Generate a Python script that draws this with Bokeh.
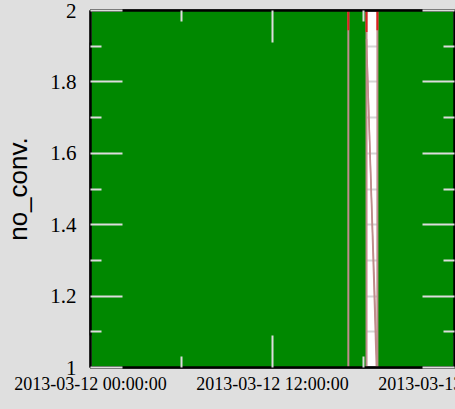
import pandas as pd
from bokeh.plotting import figure
from bokeh.models import (FixedTicker, DatetimeTickFormatter, LinearAxis, DatetimeAxis,
                          Range1d, GlobalInlineStyleSheet, CustomLabelingPolicy)
from bokeh.embed import file_html
from bokeh.resources import INLINE

# ---- data ----
x_start = "2013-03-12 00:00:00"
x_end = "2013-03-13 00:00:00"
x_ticks = ["2013-03-12 00:00:00", "2013-03-12 12:00:00", "2013-03-13 00:00:00"]
x_minor = ["2013-03-12 06:00:00", "2013-03-12 18:00:00"]
y_ticks = [1.0, 1.2, 1.4, 1.6, 1.8, 2.0]
y_minor = [1.1, 1.3, 1.5, 1.7, 1.9]
y_label = "no_conv."

fill_start = ["2013-03-12 00:00:00", "2013-03-12 18:55:00"]
fill_end = ["2013-03-12 18:12:00", "2013-03-13 00:00:00"]
fill_low = [1.0, 1.0]
fill_high = [2.0, 2.0]

jump_times = ["2013-03-12 17:00:00", "2013-03-12 18:12:00", "2013-03-12 18:55:00"]
jump_high = [2.0, 2.0, 2.0]
jump_low = [1.0, 1.0, 1.0]
jump_red_low = [1.945, 1.94, 1.945]

slope_t0 = ["2013-03-12 18:12:00", "2013-03-12 18:14:00"]
slope_y0 = [1.92, 1.86]
slope_t1 = ["2013-03-12 18:51:00", "2013-03-12 18:54:00"]
slope_y1 = [1.0, 1.0]


def ms(lst):
    return [float(v) for v in (pd.to_datetime(lst).asi8 // 10**6)]


BG = "#dfdfdf"
TICK = "#dcdcdc"

# the original image is cut at its right edge through the last date label;
# the figure runs past the window edge, which hides the rest.
p = figure(width=535, height=409, output_backend="svg", toolbar_location=None,
           x_axis_type="datetime",
           x_range=Range1d(ms([x_start])[0], ms([x_end])[0]),
           y_range=Range1d(1.0, 2.0),
           min_border_left=90, min_border_right=81, min_border_top=10, min_border_bottom=42)
p.background_fill_color = "white"
p.border_fill_color = BG
p.outline_line_color = "black"
p.outline_line_width = 2

# grids (visible only where no fill)
p.xgrid.grid_line_color = None
p.ygrid.ticker = FixedTicker(ticks=y_ticks, minor_ticks=y_minor)
p.ygrid.grid_line_color = "#d6d6d6"
p.ygrid.grid_line_width = 2
p.ygrid.minor_grid_line_color = "#d6d6d6"
p.ygrid.minor_grid_line_width = 2

# fill
p.quad(left=ms(fill_start), right=ms(fill_end), bottom=fill_low, top=fill_high,
       fill_color="#008800", line_color=None)

# lines
jt = ms(jump_times)
p.segment(x0=jt, y0=jump_high, x1=jt, y1=jump_low, line_color="#c08c8c", line_width=2)
p.segment(x0=jt, y0=jump_high, x1=jt, y1=jump_red_low, line_color="#e02020", line_width=2)
p.segment(x0=ms(slope_t0), y0=slope_y0, x1=ms(slope_t1), y1=slope_y1,
          line_color="#c08c8c", line_width=1.5)

xticker = FixedTicker(ticks=ms(x_ticks), minor_ticks=ms(x_minor))
yticker = FixedTicker(ticks=y_ticks, minor_ticks=y_minor)
fmt = "%Y-%m-%d %H:%M:%S"
xfmt = DatetimeTickFormatter(microseconds=fmt, milliseconds=fmt, seconds=fmt, minsec=fmt,
                             minutes=fmt, hourmin=fmt, hours=fmt, days=fmt, months=fmt, years=fmt)


def no_labels():
    return CustomLabelingPolicy(code="""
        const all = [];
        for (const i of indices) all.push(i);
        for (const i of all) indices.unset(i);
        return indices;
    """)


def style(ax):
    ax.axis_line_color = "black"
    ax.axis_line_width = 2.5
    ax.major_tick_in = 32
    ax.major_tick_out = 0
    ax.minor_tick_in = 11
    ax.minor_tick_out = 0
    ax.major_tick_line_color = TICK
    ax.minor_tick_line_color = TICK
    ax.major_tick_line_width = 2
    ax.minor_tick_line_width = 2


xa = p.xaxis[0]
xa.ticker = xticker
xa.formatter = xfmt
style(xa)
xa.major_label_text_font = "Liberation Serif"
xa.major_label_text_font_size = "18px"
xa.major_label_text_color = "black"
xa.major_label_standoff = 6

ya = p.yaxis[0]
ya.ticker = yticker
style(ya)
ya.major_label_text_font = "Liberation Serif"
ya.major_label_text_font_size = "21px"
ya.major_label_text_color = "black"
ya.major_label_standoff = 14
ya.axis_label = y_label
ya.axis_label_text_font = "Liberation Sans"
ya.axis_label_text_font_style = "normal"
ya.axis_label_text_font_size = "26px"
ya.axis_label_text_color = "black"
ya.axis_label_standoff = 14

top = DatetimeAxis(ticker=xticker, formatter=xfmt, major_label_policy=no_labels())
style(top)
top.major_label_text_font_size = "0px"
top.major_label_standoff = 0
p.add_layout(top, "above")

right = LinearAxis(ticker=yticker, major_label_policy=no_labels())
style(right)
right.major_label_text_font_size = "0px"
right.major_label_standoff = 0
p.add_layout(right, "right")

p.stylesheets = [GlobalInlineStyleSheet(
    css="html,body{margin:0;background:%s;overflow:hidden;}" % BG)]

open("out.html", "w").write(file_html(p, INLINE))
